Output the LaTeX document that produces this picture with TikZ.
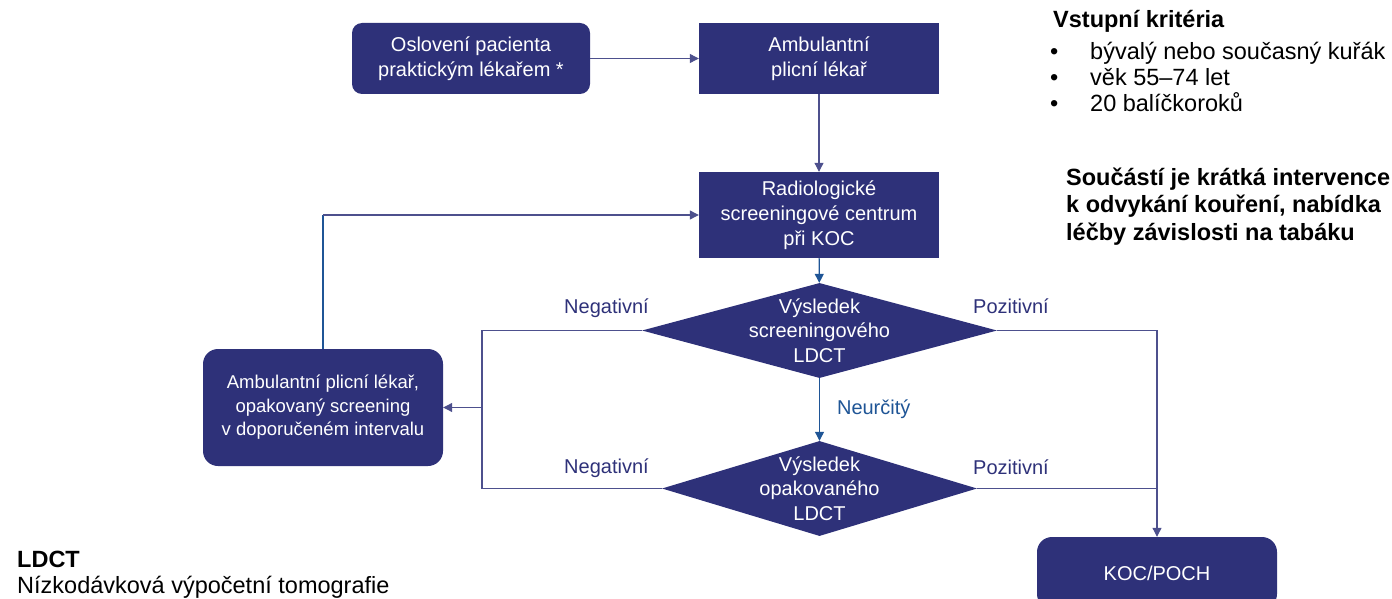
\documentclass[tikz,border=0pt]{standalone}
\usepackage{fontspec}
\setmainfont{Liberation Sans}
\usetikzlibrary{arrows.meta,shapes.geometric}
\definecolor{navy}{HTML}{2E3179}
\definecolor{lineblue}{HTML}{1F5596}
\begin{document}
\begin{tikzpicture}[x=1pt,y=-1pt,>={Triangle[length=9pt,width=9pt]},
box/.style={fill=navy,text=white,align=center,inner sep=0pt,minimum width=240pt,font=\fontsize{20}{25}\selectfont},
rbox/.style={box,rounded corners=15pt},
dec/.style={diamond,fill=navy,inner sep=0pt,minimum height=95pt},
dtext/.style={text=white,align=center,inner sep=0pt,font=\fontsize{20}{24.5}\selectfont},
flow/.style={navy!85,line width=1.1pt},
flowb/.style={lineblue,line width=1.1pt},
lbl/.style={text=navy,inner sep=0pt,anchor=base west,font=\fontsize{20}{24}\selectfont},
note/.style={inner sep=0pt,anchor=base west,font=\fontsize{23.5}{28}\selectfont},
noteb/.style={note,font=\fontsize{23.5}{28}\selectfont\bfseries}]
\path[use as bounding box] (0,0) rectangle (1392,599);
\node[rbox,rounded corners=10pt,minimum width=238pt,minimum height=71pt] (osl) at (471,58.5) {Oslovení pacienta\\praktickým lékařem *};
\node[box,minimum height=71pt] (amb) at (819,58.5) {Ambulantní\\plicní lékař};
\node[box,minimum height=86pt] (rad) at (819,215) {Radiologické\\screeningové centrum\\při KOC};
\node[dec,minimum width=355pt,label={[dtext]center:Výsledek\\screeningového\\LDCT}] (d1) at (819.5,330.5) {};
\node[dec,minimum width=315pt,label={[dtext]center:Výsledek\\opakovaného\\LDCT}] (d2) at (819.5,488.5) {};
\node[rbox,minimum height=117pt,font=\fontsize{18.5}{23.5}\selectfont] (opak) at (323,407.5) {Ambulantní plicní lékař,\\opakovaný screening\\v doporučeném intervalu};
\node[rbox,minimum height=72pt] (koc) at (1157,573) {KOC/POCH};
\coordinate (nj) at (482,407.5);
\coordinate (lp) at (323,215);
\draw[flow,->] (osl) -- (amb);
\draw[flow,->] (amb) -- (rad);
\draw[flowb,->] (rad) -- (d1);
\draw[flowb,->] (d1) -- node[lbl,anchor=west,right=17pt,text=lineblue]{Neurčitý} (d2);
\draw[flow] (d1.west) -| (nj) |- (d2.west);
\draw[flow,->] (nj) -- (opak.east);
\draw[flowb] (opak.north) -- (lp);
\draw[flow,->] (lp) -- (rad.west);
\draw[flow,->] (d1.east) -| (koc.north);
\draw[flow] (d2.east) -- (d2.east -| koc.north);
\node[lbl] (neg1) at (564,313) {Negativní};
\node[lbl] (neg2) at (564,473) {Negativní};
\node[lbl] (poz1) at (973,313) {Pozitivní};
\node[lbl] (poz2) at (973,474) {Pozitivní};
\node[noteb] (crit) at (1053,28) {Vstupní kritéria};
\foreach \t [count=\i] in {bývalý nebo současný kuřák,věk 55–74 let,20 balíčkoroků}{
  \node[note] (dot\i) at (1050,34+26*\i) {•};
  \node[note] (crit\i) at (1090,34+26*\i) {\t};
}
\foreach \t [count=\i] in {Součástí je krátká intervence,{k odvykání kouření, nabídka},léčby závislosti na tabáku}
  \node[noteb] (int\i) at (1066,157.5+27.5*\i) {\t};
\node[noteb] (ldct) at (17,567) {LDCT};
\node[note] (ldctx) at (17,593) {Nízkodávková výpočetní tomografie};
\end{tikzpicture}
\end{document}
